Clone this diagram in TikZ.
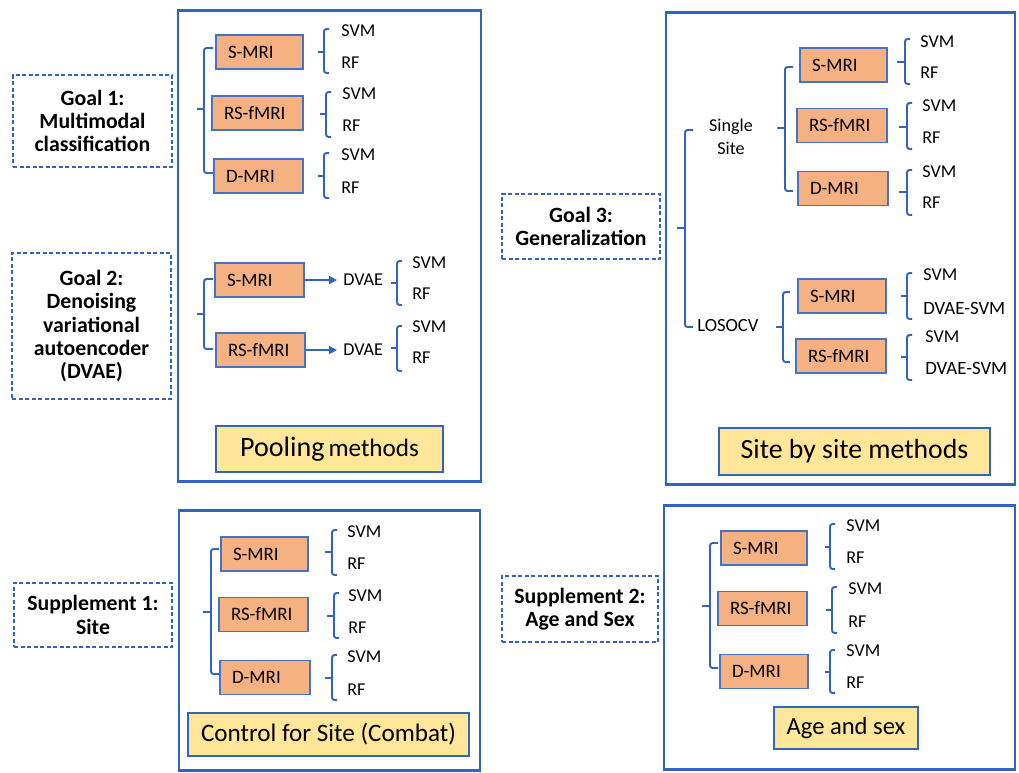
\documentclass[tikz,border=0pt]{standalone}
\usepackage{fontspec}
\setmainfont{Carlito}
\usetikzlibrary{arrows.meta}

\definecolor{panel}{HTML}{2F65C0}
\definecolor{modline}{HTML}{4472C4}
\definecolor{modfill}{HTML}{F6B183}
\definecolor{titlefill}{HTML}{FFE699}

\tikzset{
	mod/.style={draw=modline, fill=modfill, line width=0.6pt, minimum height=0.68cm, inner xsep=0.24cm, inner ysep=0pt, align=left, font=\fontsize{10.8}{13}\selectfont},
	clf/.style={anchor=west, inner sep=0pt, font=\fontsize{10.3}{12}\selectfont},
	goalbox/.style={draw=panel, line width=0.85pt, dash pattern=on 2.3pt off 1.4pt, align=center, font=\bfseries\fontsize{12.4}{13.3}\selectfont},
	panelbox/.style={draw=panel, line width=1.7pt},
	titlebox/.style={draw=panel, fill=titlefill, line width=1.2pt},
	brc/.style={draw=panel, line width=1.1pt, rounded corners=1.5pt},
	arr/.style={draw=panel, line width=1.1pt, -{Triangle[length=1.6mm,width=1.6mm]}}
}

\begin{document}
\begin{tikzpicture}[x=0.02cm, y=-0.02cm]
	\useasboundingbox (0,0) rectangle (1019,772);
	% panels
	\draw[panelbox] (178,10) rectangle (481,481);
	\draw[panelbox] (666,12) rectangle (1015,484);
	\draw[panelbox] (179,510) rectangle (480,770);
	\draw[panelbox] (664,505) rectangle (1015,769);
	% goals
	\draw (92.5,121) node[goalbox, minimum width=3.18cm, minimum height=1.84cm](goal1) {Goal 1:\\Multimodal\\classification};
	\draw (91.5,326) node[goalbox, minimum width=3.18cm, minimum height=2.92cm](goal2) {Goal 2:\\Denoising\\variational\\autoencoder\\(DVAE)};
	\draw (581,226.5) node[goalbox, minimum width=3.16cm, minimum height=1.30cm](goal3) {Goal 3:\\Generalization};
	\draw (93,615) node[goalbox, minimum width=3.16cm, minimum height=1.28cm](supp1) {Supplement 1:\\Site};
	\draw (580,609) node[goalbox, minimum width=3.12cm, minimum height=1.32cm](supp2) {Supplement 2:\\Age and Sex};

	% pooling panel, goal 1
	\draw (259.5,52) node[mod, text width=1.26cm](p1s) {S-MRI};
	\draw (257.5,113) node[mod, text width=1.34cm](p1r) {RS-fMRI};
	\draw (258.5,176) node[mod, text width=1.30cm](p1d) {D-MRI};
	\draw[brc] (213,48) -- (204,48) -- (204,173) -- (213,173) (197,109) -- (204,109);
	\draw[brc] (329,29) -- (324,29) -- (324,73) -- (329,73) (318,52) -- (324,52);
	\draw[brc] (331,92) -- (326,92) -- (326,137) -- (331,137) (320,114) -- (326,114);
	\draw[brc] (329,153) -- (324,153) -- (324,198) -- (329,198) (318,176) -- (324,176);
	\draw (341,31) node[clf](p1s-svm) {SVM};
	\draw (341,63) node[clf](p1s-rf) {RF};
	\draw (342,94) node[clf](p1r-svm) {SVM};
	\draw (342,126) node[clf](p1r-rf) {RF};
	\draw (341,155) node[clf](p1d-svm) {SVM};
	\draw (341,188) node[clf](p1d-rf) {RF};

	% pooling panel, goal 2
	\draw (259.5,280) node[mod, text width=1.30cm](p1vs) {S-MRI};
	\draw (260.5,350) node[mod, text width=1.30cm](p1vr) {RS-fMRI};
	\draw (343,280) node[clf](dv1) {DVAE};
	\draw (343,350) node[clf](dv2) {DVAE};
	\draw[arr] (p1vs.east) -- ([xshift=-0.12cm]dv1.west);
	\draw[arr] (p1vr.east) -- ([xshift=-0.12cm]dv2.west);
	\draw[brc] (213,279) -- (204,279) -- (204,349) -- (213,349) (197,314) -- (204,314);
	\draw[brc] (402,261) -- (397,261) -- (397,305) -- (402,305) (391,283) -- (397,283);
	\draw[brc] (402,326) -- (397,326) -- (397,371) -- (402,371) (391,348) -- (397,348);
	\draw (412,263) node[clf](dv1-svm) {SVM};
	\draw (412,294) node[clf](dv1-rf) {RF};
	\draw (412,327) node[clf](dv2-svm) {SVM};
	\draw (412,358) node[clf](dv2-rf) {RF};
	\draw (329.5,449) node[titlebox, minimum width=4.54cm, minimum height=0.92cm](pool) {{\fontsize{16}{18}\selectfont Pooling} {\fontsize{14.3}{16}\selectfont methods}};

	% site by site panel, goal 3
	\draw[brc] (693,130) -- (685,130) -- (685,327) -- (693,327) (677,228) -- (685,228);
	\draw (731,137) node[align=center, inner sep=0pt, font=\fontsize{10.3}{13}\selectfont](single) {Single\\Site};
	\draw (697,326) node[clf, font=\fontsize{10.6}{12}\selectfont](loso) {LOSOCV};
	\draw (843.5,65) node[mod, text width=1.26cm](p2s) {S-MRI};
	\draw (842,125.5) node[mod, text width=1.32cm](p2r) {RS-fMRI};
	\draw (843,188.5) node[mod, text width=1.32cm](p2d) {D-MRI};
	\draw[brc] (793,67) -- (785,67) -- (785,191) -- (793,191) (777,128) -- (785,128);
	\draw[brc] (910,39) -- (905,39) -- (905,84) -- (910,84) (897,62) -- (905,62);
	\draw[brc] (912,103) -- (907,103) -- (907,149) -- (912,149) (899,127) -- (907,127);
	\draw[brc] (912,170) -- (907,170) -- (907,215) -- (912,215) (899,192) -- (907,192);
	\draw (920,42) node[clf](p2s-svm) {SVM};
	\draw (920,73) node[clf](p2s-rf) {RF};
	\draw (922,106) node[clf](p2r-svm) {SVM};
	\draw (922,138) node[clf](p2r-rf) {RF};
	\draw (922,172) node[clf](p2d-svm) {SVM};
	\draw (922,203) node[clf](p2d-rf) {RF};
	\draw (842,296) node[mod, text width=1.28cm](p2ls) {S-MRI};
	\draw (841,356) node[mod, text width=1.32cm](p2lr) {RS-fMRI};
	\draw[brc] (790,292) -- (783,292) -- (783,362) -- (790,362) (776,327) -- (783,327);
	\draw[brc] (912,273) -- (907,273) -- (907,319) -- (912,319) (901,296) -- (907,296);
	\draw[brc] (912,335) -- (907,335) -- (907,380) -- (912,380) (901,357) -- (907,357);
	\draw (923,275) node[clf](p2ls-svm) {SVM};
	\draw (923,308) node[clf, font=\fontsize{10.7}{12}\selectfont](p2ls-dvae) {DVAE-SVM};
	\draw (925,337) node[clf](p2lr-svm) {SVM};
	\draw (925,368) node[clf, font=\fontsize{10.7}{12}\selectfont](p2lr-dvae) {DVAE-SVM};
	\draw (854.5,451.5) node[titlebox, minimum width=5.42cm, minimum height=0.94cm, font=\fontsize{15.8}{18}\selectfont](sbs) {Site by site methods};

	% combat panel, supplement 1
	\draw (264.5,554) node[mod, text width=1.26cm](p3s) {S-MRI};
	\draw (263.5,614.5) node[mod, text width=1.30cm](p3r) {RS-fMRI};
	\draw (265,677.5) node[mod, text width=1.32cm](p3d) {D-MRI};
	\draw[brc] (219,549) -- (211,549) -- (211,674) -- (219,674) (203,612) -- (211,612);
	\draw[brc] (337,530) -- (332,530) -- (332,575) -- (337,575) (325,552) -- (332,552);
	\draw[brc] (339,593) -- (334,593) -- (334,638) -- (339,638) (327,616) -- (334,616);
	\draw[brc] (337,655) -- (332,655) -- (332,700) -- (337,700) (325,678) -- (332,678);
	\draw (347,532) node[clf](p3s-svm) {SVM};
	\draw (347,564) node[clf](p3s-rf) {RF};
	\draw (348,596) node[clf](p3r-svm) {SVM};
	\draw (348,628) node[clf](p3r-rf) {RF};
	\draw (347,657) node[clf](p3d-svm) {SVM};
	\draw (347,690) node[clf](p3d-rf) {RF};
	\draw (328.5,734.5) node[titlebox, minimum width=5.62cm, minimum height=0.86cm, font=\fontsize{14.3}{16}\selectfont](combat) {Control for Site (Combat)};

	% age and sex panel, supplement 2
	\draw (764,548) node[mod, text width=1.24cm](p4s) {S-MRI};
	\draw (762.5,608.5) node[mod, text width=1.30cm](p4r) {RS-fMRI};
	\draw (764,671.5) node[mod, text width=1.28cm](p4d) {D-MRI};
	\draw[brc] (718,543) -- (710,543) -- (710,668) -- (718,668) (702,606) -- (710,606);
	\draw[brc] (835,524) -- (830,524) -- (830,569) -- (835,569) (825,547) -- (830,547);
	\draw[brc] (837,587) -- (832,587) -- (832,633) -- (837,633) (826,610) -- (832,610);
	\draw[brc] (835,650) -- (830,650) -- (830,693) -- (835,693) (825,672) -- (830,672);
	\draw (846,526) node[clf](p4s-svm) {SVM};
	\draw (846,558) node[clf](p4s-rf) {RF};
	\draw (848,589) node[clf](p4r-svm) {SVM};
	\draw (848,622) node[clf](p4r-rf) {RF};
	\draw (846,651) node[clf](p4d-svm) {SVM};
	\draw (846,683) node[clf](p4d-rf) {RF};
	\draw (846,728) node[titlebox, minimum width=2.88cm, minimum height=0.84cm, font=\fontsize{14}{16}\selectfont](agesex) {Age and sex};
\end{tikzpicture}
\end{document}
